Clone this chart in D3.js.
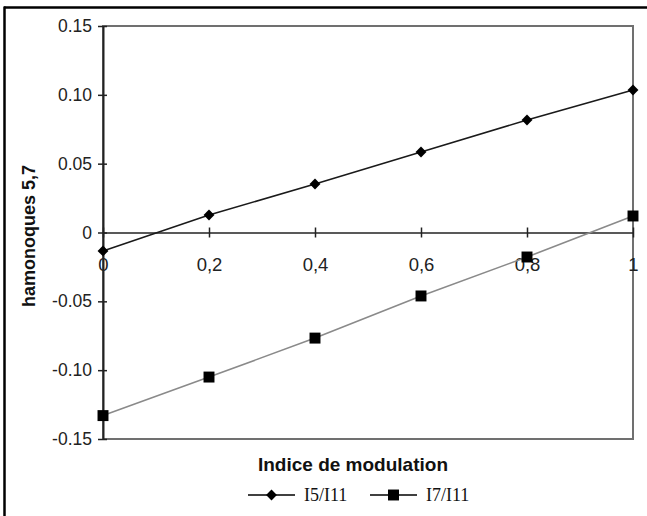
<!DOCTYPE html>
<html><head><meta charset="utf-8">
<script src="https://cdn.jsdelivr.net/npm/d3@7/dist/d3.min.js"></script>
<style>
html,body{margin:0;padding:0;background:#fff;}
svg{display:block;}
</style></head>
<body>
<svg id="chart" width="647" height="516"></svg>
<script>
const xValues = [0, 0.2, 0.4, 0.6, 0.8, 1];
const seriesI5 = [-0.0134, 0.0127, 0.0352, 0.0585, 0.0817, 0.1035];
const seriesI7 = [-0.133, -0.105, -0.0767, -0.0461, -0.0178, 0.012];
const yTickValues = [-0.15, -0.10, -0.05, 0, 0.05, 0.10, 0.15];
const yTickLabels = ["-0.15", "-0.10", "-0.05", "0", "0.05", "0.10", "0.15"];
const xTickLabels = ["0", "0,2", "0,4", "0,6", "0,8", "1"];
const seriesNames = ["I5/I11", "I7/I11"];

const svg = d3.select("#chart");
const pLeft = 103, pRight = 633, pTop = 26, pBottom = 439;
const x = d3.scaleLinear().domain([0, 1]).range([pLeft, pRight]);
const y = d3.scaleLinear().domain([-0.15, 0.15]).range([pBottom, pTop]);

// outer frame (top and left edges visible)
svg.append("line").attr("x1", 4).attr("x2", 647).attr("y1", 7.5).attr("y2", 7.5)
  .attr("stroke", "#000").attr("stroke-width", 2.5);
svg.append("line").attr("x1", 4.5).attr("x2", 4.5).attr("y1", 6.5).attr("y2", 516)
  .attr("stroke", "#000").attr("stroke-width", 2.5);

// plot area border
svg.append("rect").attr("x", pLeft).attr("y", pTop).attr("width", pRight - pLeft).attr("height", pBottom - pTop)
  .attr("fill", "none").attr("stroke", "#707070").attr("stroke-width", 2);

// y axis
const yAxis = d3.axisLeft(y).tickValues(yTickValues)
  .tickFormat((d, i) => yTickLabels[i]).tickSizeInner(5).tickSizeOuter(0).tickPadding(6);
const gy = svg.append("g").attr("transform", `translate(${pLeft},0)`).call(yAxis);
gy.select(".domain").attr("stroke", "#222").attr("stroke-width", 2);
gy.selectAll(".tick line").attr("x1", -5).attr("x2", 4).attr("stroke", "#222").attr("stroke-width", 1.5);
gy.selectAll(".tick text").attr("font-family", "Liberation Sans, Arial, sans-serif")
  .attr("font-size", 17.5).attr("fill", "#222").attr("x", -11);

// x axis at zero
const xAxis = d3.axisBottom(x).tickValues(xValues)
  .tickFormat((d, i) => xTickLabels[i]).tickSizeInner(5).tickSizeOuter(0).tickPadding(0);
const gx = svg.append("g").attr("transform", `translate(0,${y(0)})`).call(xAxis);
gx.select(".domain").attr("stroke", "#222").attr("stroke-width", 1.5);
gx.selectAll(".tick line").attr("y1", -5).attr("y2", 5).attr("stroke", "#222").attr("stroke-width", 1.5);
gx.selectAll(".tick text").attr("font-family", "Liberation Sans, Arial, sans-serif")
  .attr("font-size", 18.5).attr("fill", "#222").attr("y", 38.5).attr("dy", 0);

// lines
const line = d3.line().x((d, i) => x(xValues[i])).y(d => y(d));
svg.append("path").datum(seriesI7).attr("d", line).attr("fill", "none")
  .attr("stroke", "#8a8a8a").attr("stroke-width", 1.6);
svg.append("path").datum(seriesI5).attr("d", line).attr("fill", "none")
  .attr("stroke", "#1a1a1a").attr("stroke-width", 1.6);

const diamond = d3.symbol().type(d3.symbolDiamond2).size(75);
const square = d3.symbol().type(d3.symbolSquare).size(120);
svg.selectAll(".mk5").data(seriesI5).enter().append("path")
  .attr("d", diamond).attr("transform", (d, i) => `translate(${x(xValues[i])},${y(d)})`)
  .attr("fill", "#000");
svg.selectAll(".mk7").data(seriesI7).enter().append("path")
  .attr("d", square).attr("transform", (d, i) => `translate(${x(xValues[i])},${y(d)})`)
  .attr("fill", "#000");

// axis titles
svg.append("text").attr("x", 353).attr("y", 471).attr("text-anchor", "middle")
  .attr("font-family", "Liberation Sans, Arial, sans-serif").attr("font-weight", "bold")
  .attr("font-size", 19).attr("fill", "#111").text("Indice de modulation");
svg.append("text").attr("transform", "translate(35,236) rotate(-90)").attr("text-anchor", "middle")
  .attr("font-family", "Liberation Sans, Arial, sans-serif").attr("font-weight", "bold")
  .attr("font-size", 18).attr("fill", "#111").text("hamonoques 5,7");

// legend
const legend = [
  {name: seriesNames[0], x0: 248, sym: diamond},
  {name: seriesNames[1], x0: 370, sym: square}
];
const lg = svg.append("g");
legend.forEach(L => {
  lg.append("line").attr("x1", L.x0).attr("x2", L.x0 + 47).attr("y1", 495).attr("y2", 495)
    .attr("stroke", "#000").attr("stroke-width", 1.6);
  lg.append("path").attr("d", L.sym).attr("transform", `translate(${L.x0 + 23.5},495)`).attr("fill", "#000");
  lg.append("text").attr("x", L.x0 + 56).attr("y", 501)
    .attr("font-family", "Liberation Serif, Times New Roman, serif").attr("font-size", 18)
    .attr("fill", "#111").text(L.name);
});
</script>
</body></html>
